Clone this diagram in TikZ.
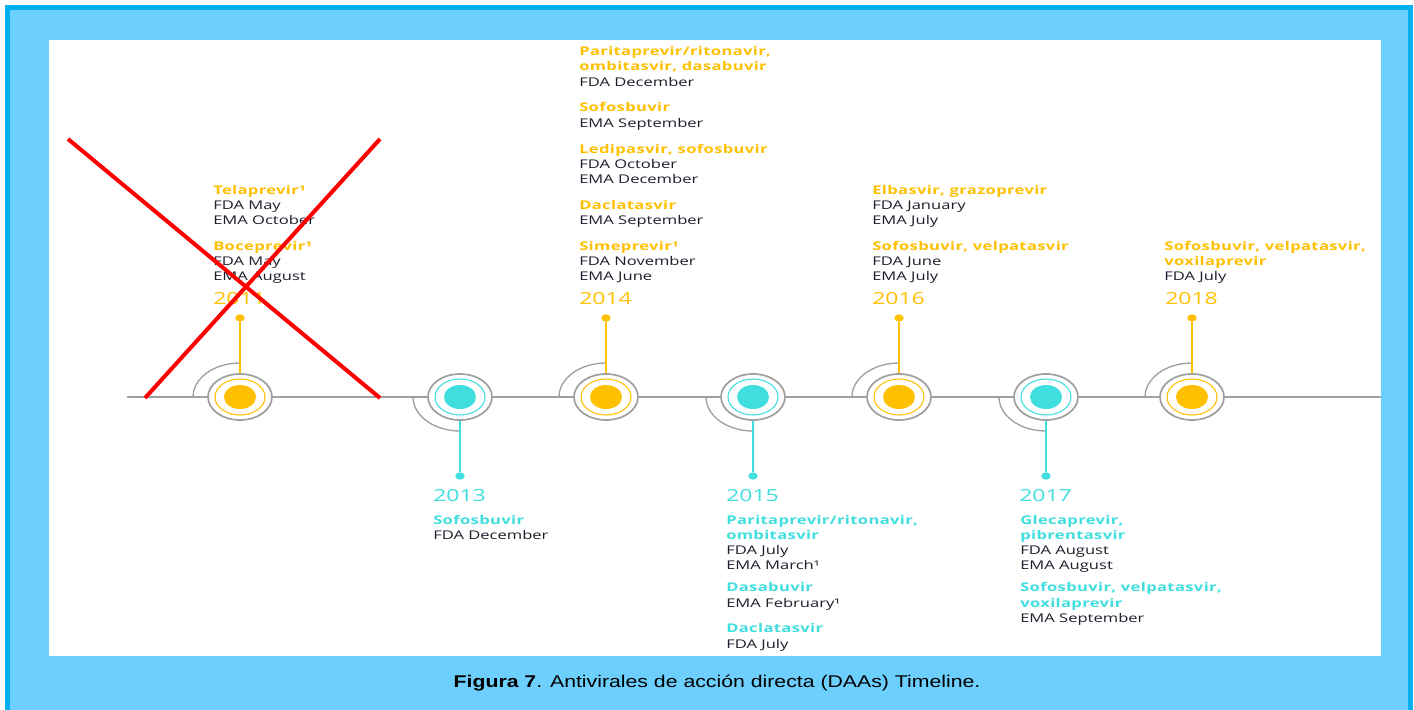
\documentclass[tikz,border=0pt]{standalone}
\usepackage{fontspec}
\usetikzlibrary{shapes.geometric}
\newfontfamily\tlfont[FakeStretch=1.38, BoldFeatures={LetterSpace=3}]{Open Sans}
\newfontfamily\capfont[FakeStretch=1.25]{Liberation Sans}
\definecolor{frameblue}{HTML}{00B0F0}
\definecolor{panelblue}{HTML}{6DCFFD}
\definecolor{tlyellow}{HTML}{FFC000}
\definecolor{tlcyan}{HTML}{40DEDE}
\definecolor{tlgray}{HTML}{A0A0A0}
\definecolor{tltext}{HTML}{1E1E2C}
\newcommand\drugup[1]{\textcolor{tlyellow}{\bfseries #1}}
\newcommand\druglow[1]{\textcolor{tlcyan}{\bfseries #1}}
\tikzset{
  outerring/.style={ellipse, draw=tlgray, fill=white, line width=1.3pt, minimum width=48pt, minimum height=34.5pt, inner sep=0pt},
  innerring/.style={ellipse, draw=#1, line width=0.8pt, minimum width=37.5pt, minimum height=27pt, inner sep=0pt},
  hubdot/.style={ellipse, fill=#1, minimum width=24pt, minimum height=18pt, inner sep=0pt},
  pindot/.style={ellipse, fill=#1, minimum width=7pt, minimum height=5.5pt, inner sep=0pt},
  yearlbl/.style={font=\tlfont\fontsize{12.5}{14}\selectfont, text=#1, inner sep=0pt, anchor=base west},
  info/.style={font=\tlfont\fontsize{9}{11.4}\selectfont, text=tltext, align=left, inner sep=0pt, text depth=0pt},
}
\begin{document}
\begin{tikzpicture}[x=0.75pt,y=-0.75pt]
	\useasboundingbox (0,0) rectangle (1414,710);
	% frame and white panel
	\draw[frameblue, line width=3.75pt, fill=panelblue] (7.5,7.5) rectangle (1410.5,730);
	\fill[white] (49,40) rectangle (1381,656);
	% time axis
	\draw[tlgray, line width=1.1pt] (127,397) -- (1381,397);
	% hubs, stems and years
	\foreach \yr/\xx/\dd/\col in {2011/240/-1/tlyellow, 2013/460/1/tlcyan, 2014/606/-1/tlyellow, 2015/753/1/tlcyan, 2016/899/-1/tlyellow, 2017/1046/1/tlcyan, 2018/1192/-1/tlyellow}{
		\draw[tlgray, line width=1pt] (\xx-47,397) arc[start angle=180, end angle=180-90*\dd, x radius=47, y radius=34];
		\node[outerring] (ring\yr) at (\xx,397) {};
		\node[innerring=\col] at (\xx,397) {};
		\node[hubdot=\col] at (\xx,397) {};
		\node[pindot=\col] (pin\yr) at (\xx,397+79*\dd) {};
		\draw[\col, line width=1.1pt] (ring\yr) -- (pin\yr);
		\node[yearlbl=\col] (yr\yr) at (\xx-27,402.5+98.5*\dd) {\yr};
	}
	% approvals above the axis
	\node[info, anchor=south west] (tx2011) at (213,281) {\drugup{Telaprevir¹}\\ FDA May\\ EMA October\\[8pt]
		\drugup{Boceprevir¹}\\ FDA May\\ EMA August};
	\node[info, anchor=south west] (tx2014) at (579,281) {\drugup{Paritaprevir/ritonavir,}\\ \drugup{ombitasvir, dasabuvir}\\ FDA December\\[8pt]
		\drugup{Sofosbuvir}\\ EMA September\\[8pt]
		\drugup{Ledipasvir, sofosbuvir}\\ FDA October\\ EMA December\\[8pt]
		\drugup{Daclatasvir}\\ EMA September\\[8pt]
		\drugup{Simeprevir¹}\\ FDA November\\ EMA June};
	\node[info, anchor=south west] (tx2016) at (872,281) {\drugup{Elbasvir, grazoprevir}\\ FDA January\\ EMA July\\[8pt]
		\drugup{Sofosbuvir, velpatasvir}\\ FDA June\\ EMA July};
	\node[info, anchor=south west] (tx2018) at (1164,281) {\drugup{Sofosbuvir, velpatasvir,}\\ \drugup{voxilaprevir}\\ FDA July};
	% approvals below the axis
	\node[info, anchor=north west] (tx2013) at (433,515) {\druglow{Sofosbuvir}\\ FDA December};
	\node[info, anchor=north west] (tx2015) at (726,515) {\druglow{Paritaprevir/ritonavir,}\\ \druglow{ombitasvir}\\ FDA July\\ EMA March¹\\[5pt]
		\druglow{Dasabuvir}\\ EMA February¹\\[8pt]
		\druglow{Daclatasvir}\\ FDA July};
	\node[info, anchor=north west] (tx2017) at (1020,515) {\druglow{Glecaprevir,}\\ \druglow{pibrentasvir}\\ FDA August\\ EMA August\\[5pt]
		\druglow{Sofosbuvir, velpatasvir,}\\ \druglow{voxilaprevir}\\ EMA September};
	% crossed out
	\draw[red, line width=3pt] (68,139) -- (380,398) (380,139) -- (145,398);
	% caption
	\node[font=\capfont\fontsize{12.75}{15}\selectfont, text=black] (caption) at (717,683) {\textbf{Figura 7}. Antivirales de acción directa (DAAs) Timeline.};
\end{tikzpicture}
\end{document}
